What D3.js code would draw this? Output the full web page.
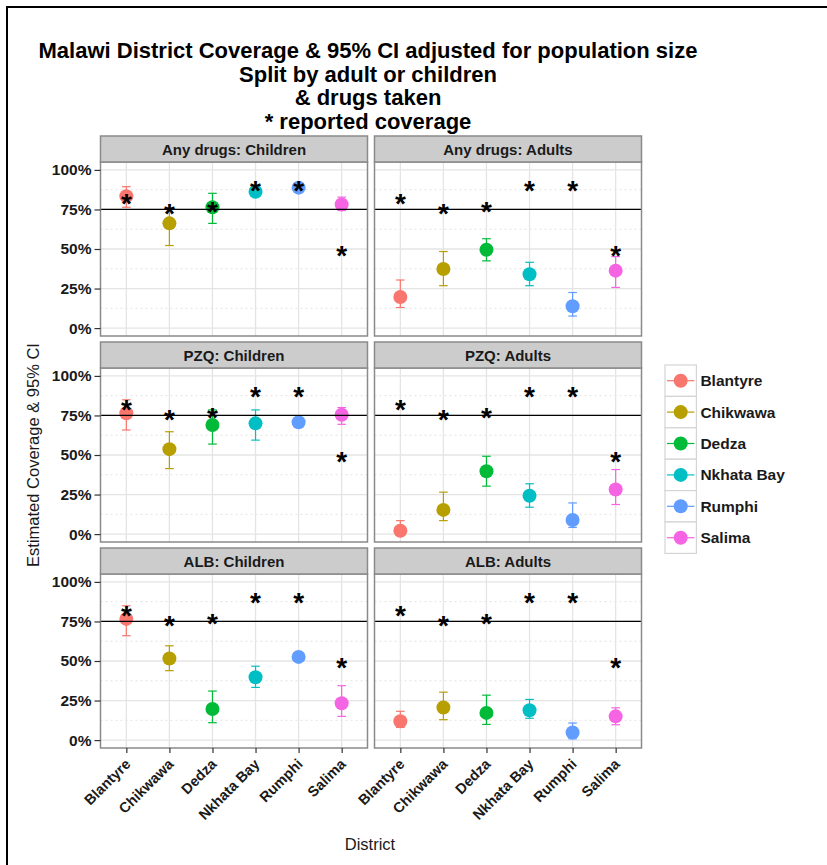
<!DOCTYPE html>
<html><head><meta charset="utf-8">
<script src="https://cdn.jsdelivr.net/npm/d3@7"></script>
<style>
body{margin:0;background:#fff;}
svg{display:block;font-family:"Liberation Sans",Arial,sans-serif;}
</style></head>
<body>
<svg id="chart" width="827" height="865"></svg>
<script>
// ---------- data ----------
const districts = ["Blantyre","Chikwawa","Dedza","Nkhata Bay","Rumphi","Salima"];
const districtColors = ["#F8766D","#B79F00","#00BA38","#00BFC4","#619CFF","#F564E3"];
const drugs = ["Any drugs","PZQ","ALB"];
const groups = ["Children","Adults"];
const yTicks = [0, 25, 50, 75, 100];
const yMinor = [12.5, 37.5, 62.5, 87.5];
const target = 75;
const titleLines = ["Malawi District Coverage & 95% CI adjusted for population size","Split by adult or children","& drugs taken","* reported coverage"];

const reported = [81, 74.5, 75.5, 88.8, 88.8, 48];

const anyChildEst = [83.4, 66.2, 76.4, 86.2, 88.8, 78.2];
const anyChildLo  = [76.4, 52.2, 66.2, 84.0, 87.3, 74.3];
const anyChildHi  = [89.4, 76.0, 85.2, 88.8, 90.3, 82.8];

const anyAdultEst = [19.7, 37.4, 49.5, 34.0, 13.8, 36.3];
const anyAdultLo  = [13.0, 26.8, 42.5, 26.8, 7.6, 25.7];
const anyAdultHi  = [30.4, 48.4, 56.5, 41.6, 22.5, 45.2];

const pzqChildEst = [76.4, 53.7, 69.0, 70.0, 70.7, 75.4];
const pzqChildLo  = [65.8, 41.4, 56.9, 59.4, 68.8, 69.4];
const pzqChildHi  = [84.9, 64.7, 78.5, 78.5, 72.6, 80.0];

const pzqAdultEst = [2.1, 15.3, 39.7, 24.2, 8.9, 28.2];
const pzqAdultLo  = [0.0, 8.5, 30.3, 17.0, 4.2, 18.7];
const pzqAdultHi  = [8.5, 26.5, 49.2, 31.8, 19.7, 40.8];

const albChildEst = [76.6, 51.6, 19.7, 39.7, 52.6, 23.3];
const albChildLo  = [66.0, 43.9, 11.0, 33.3, 50.7, 15.0];
const albChildHi  = [84.9, 59.6, 31.0, 46.7, 54.5, 34.4];

const albAdultEst = [11.9, 20.6, 17.2, 18.9, 4.8, 15.0];
const albAdultLo  = [8.0, 12.9, 9.9, 13.8, 0.8, 9.7];
const albAdultHi  = [18.2, 30.3, 28.4, 25.7, 10.8, 20.4];

const panelData = [
  [[anyChildEst, anyChildLo, anyChildHi], [anyAdultEst, anyAdultLo, anyAdultHi]],
  [[pzqChildEst, pzqChildLo, pzqChildHi], [pzqAdultEst, pzqAdultLo, pzqAdultHi]],
  [[albChildEst, albChildLo, albChildHi], [albAdultEst, albAdultLo, albAdultHi]]
];

// ---------- layout ----------
const svg = d3.select("#chart");
const panelLefts = [100.5, 374.5];
const panelW = 267;
const stripTops = [136, 342, 548];
const stripH = 26;
const panelH = 174;
const FONT = '"Liberation Sans",Arial,sans-serif';

// outer frame
svg.append("path").attr("d","M7,866 L7,7 L828,7").attr("fill","none").attr("stroke","#000").attr("stroke-width",2);

// title
const title = svg.append("text").attr("text-anchor","middle").attr("font-weight","bold")
  .attr("font-size","22px").attr("fill","#000");
titleLines.forEach((t,i)=>{
  title.append("tspan").attr("x",368).attr("y",58 + i*23.5).text(t);
});

const color = d3.scaleOrdinal().domain(districts).range(districtColors);

drugs.forEach((drug, r) => {
  groups.forEach((grp, c) => {
    const x0 = panelLefts[c];
    const sTop = stripTops[r];
    const pTop = sTop + stripH;
    const x = d3.scalePoint().domain(districts).range([x0, x0 + panelW]).padding(0.6);
    const y = d3.scaleLinear().domain([-5, 105]).range([pTop + panelH, pTop]);
    const g = svg.append("g");

    // background
    g.append("rect").attr("x",x0).attr("y",pTop).attr("width",panelW).attr("height",panelH).attr("fill","#fff");
    // minor grid
    g.selectAll(".minor").data(yMinor).join("line")
      .attr("x1",x0).attr("x2",x0+panelW).attr("y1",d=>y(d)).attr("y2",d=>y(d))
      .attr("stroke","#e3e3e3").attr("stroke-width",1).attr("stroke-dasharray","2,3");
    // major grid
    g.selectAll(".majory").data(yTicks).join("line")
      .attr("x1",x0).attr("x2",x0+panelW).attr("y1",d=>y(d)).attr("y2",d=>y(d))
      .attr("stroke","#e4e4e4").attr("stroke-width",1.3);
    g.selectAll(".majorx").data(districts).join("line")
      .attr("x1",d=>x(d)).attr("x2",d=>x(d)).attr("y1",pTop).attr("y2",pTop+panelH)
      .attr("stroke","#e4e4e4").attr("stroke-width",1.3);

    const [est, lo, hi] = panelData[r][c];
    const rows = districts.map((d,i)=>({d, est:est[i], lo:lo[i], hi:hi[i], rep:reported[i]}));
    const capW = 4.3;
    // error bars
    const eb = g.selectAll(".eb").data(rows).join("g").attr("stroke",d=>color(d.d)).attr("stroke-width",1.2).attr("fill","none");
    eb.append("line").attr("x1",d=>x(d.d)).attr("x2",d=>x(d.d)).attr("y1",d=>y(d.lo)).attr("y2",d=>y(d.hi));
    eb.append("line").attr("x1",d=>x(d.d)-capW).attr("x2",d=>x(d.d)+capW).attr("y1",d=>y(d.lo)).attr("y2",d=>y(d.lo));
    eb.append("line").attr("x1",d=>x(d.d)-capW).attr("x2",d=>x(d.d)+capW).attr("y1",d=>y(d.hi)).attr("y2",d=>y(d.hi));
    // points
    g.selectAll(".pt").data(rows).join("circle")
      .attr("cx",d=>x(d.d)).attr("cy",d=>y(d.est)).attr("r",7).attr("fill",d=>color(d.d));
    // target line
    g.append("line").attr("x1",x0).attr("x2",x0+panelW).attr("y1",y(target)).attr("y2",y(target))
      .attr("stroke","#000").attr("stroke-width",1.2);
    // reported coverage asterisks
    const afs = 28;
    g.selectAll(".ast").data(rows).join("text")
      .attr("x",d=>x(d.d)).attr("y",d=>y(d.rep) + afs*0.45)
      .attr("text-anchor","middle").attr("font-weight","bold").attr("font-size",afs+"px")
      .attr("fill","#000").text("*");
    // panel border
    g.append("rect").attr("x",x0).attr("y",pTop).attr("width",panelW).attr("height",panelH)
      .attr("fill","none").attr("stroke","#8a8a8a").attr("stroke-width",1.5);
    // strip
    g.append("rect").attr("x",x0).attr("y",sTop).attr("width",panelW).attr("height",stripH)
      .attr("fill","#cccccc").attr("stroke","#8a8a8a").attr("stroke-width",1.5);
    g.append("text").attr("x",x0+panelW/2).attr("y",sTop+stripH/2+5.5).attr("text-anchor","middle")
      .attr("font-weight","bold").attr("font-size","15px").attr("fill","#1a1a1a").text(drug + ": " + grp);

    // y axis
    if (c === 0) {
      const ya = svg.append("g").attr("transform",`translate(${x0},0)`)
        .call(d3.axisLeft(y).tickValues(yTicks).tickSize(6).tickPadding(3).tickFormat(d=>d+"%"));
      ya.select(".domain").remove();
      ya.selectAll(".tick line").attr("stroke","#333").attr("stroke-width",1.2);
      ya.selectAll("text").attr("font-family",FONT).attr("font-weight","bold").attr("font-size","15.5px").attr("fill","#1a1a1a");
    }
    // x axis
    if (r === 2) {
      const xa = svg.append("g").attr("transform",`translate(0,${pTop+panelH})`)
        .call(d3.axisBottom(x).tickSize(5).tickFormat(""));
      xa.select(".domain").remove();
      xa.selectAll(".tick line").attr("stroke","#333").attr("stroke-width",1.2);
      svg.append("g").selectAll("text").data(districts).join("text")
        .attr("transform",d=>`translate(${x(d)+5},${pTop+panelH+17}) rotate(-45)`)
        .attr("text-anchor","end").attr("font-weight","bold").attr("font-size","14.5px").attr("fill","#1a1a1a")
        .text(d=>d);
    }
  });
});

// axis titles
svg.append("text").attr("transform","translate(39,455) rotate(-90)").attr("text-anchor","middle")
  .attr("font-size","16.5px").attr("fill","#1a1a1a").text("Estimated Coverage & 95% CI");
svg.append("text").attr("x",370).attr("y",850).attr("text-anchor","middle")
  .attr("font-size","16.5px").attr("fill","#1a1a1a").text("District");

// legend
const legX = 665, legY = 365, keyS = 31.4;
const leg = svg.append("g");
districts.forEach((d,i)=>{
  const ky = legY + i*keyS;
  leg.append("rect").attr("x",legX).attr("y",ky).attr("width",keyS).attr("height",keyS)
    .attr("fill","#fff").attr("stroke","#d4d4d4").attr("stroke-width",1.2);
  leg.append("line").attr("x1",legX+2).attr("x2",legX+keyS-2).attr("y1",ky+keyS/2).attr("y2",ky+keyS/2)
    .attr("stroke",color(d)).attr("stroke-width",1.2);
  leg.append("circle").attr("cx",legX+keyS/2).attr("cy",ky+keyS/2).attr("r",7).attr("fill",color(d));
  leg.append("text").attr("x",legX+keyS+4).attr("y",ky+keyS/2+5.5).attr("font-weight","bold")
    .attr("font-size","15.5px").attr("fill","#1a1a1a").text(d);
});
</script>
</body></html>
